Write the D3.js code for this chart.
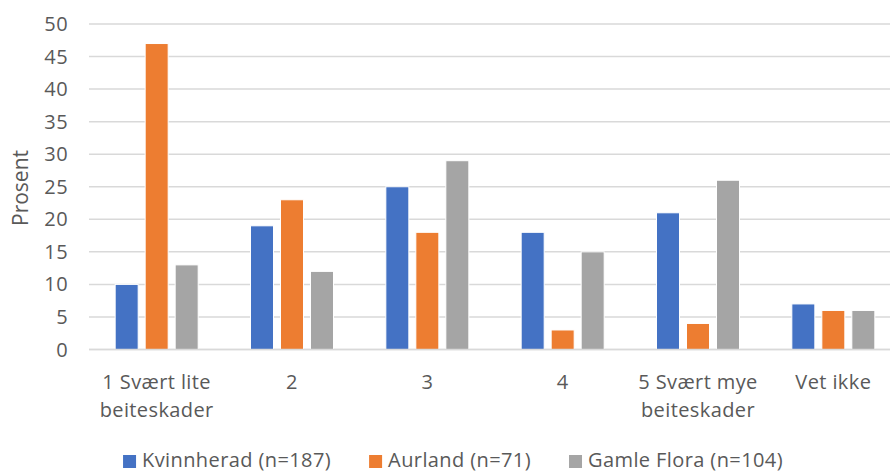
<!DOCTYPE html>
<html><head><meta charset="utf-8">
<script src="https://cdn.jsdelivr.net/npm/d3@7"></script>
<style>html,body{margin:0;padding:0;background:#fff;}svg{display:block;}</style>
</head><body>
<svg id="chart" width="890" height="473"></svg>
<script>
const categories = [["1 Svært lite","beiteskader"],["2"],["3"],["4"],["5 Svært mye","beiteskader"],["Vet ikke"]];
const seriesNames = ["Kvinnherad (n=187)","Aurland (n=71)","Gamle Flora (n=104)"];
const kvinnherad = [10,19,25,18,21,7];
const aurland = [47,23,18,3,4,6];
const gamleFlora = [13,12,29,15,26,6];
const yTicks = [0,5,10,15,20,25,30,35,40,45,50];
const colors = ["#4472C4","#ED7D31","#A5A5A5"];
const seriesValues = [kvinnherad, aurland, gamleFlora];

(function(){
const font = "'Open Sans', sans-serif";
const textColor = "#595959";
const fs = 20;
const ls = "0.4px";
const svg = d3.select("#chart");
const mLeft = 89, mRight = 901, mTop = 24, mBottom = 349.5;

const x0 = d3.scaleBand().domain(d3.range(categories.length)).range([mLeft,mRight]).paddingInner(0.335).paddingOuter(0.1675);
const x1 = d3.scaleBand().domain(d3.range(seriesNames.length)).range([0,x0.bandwidth()]).paddingInner(0.233).paddingOuter(0.1165);
const y = d3.scaleLinear().domain([0,50]).range([mBottom,mTop]);

svg.append("g").selectAll("line").data(yTicks).join("line")
  .attr("x1",mLeft).attr("x2",890).attr("y1",d=>y(d)).attr("y2",d=>y(d))
  .attr("stroke","#d9d9d9").attr("stroke-width",1.5);

svg.append("g").selectAll("text").data(yTicks).join("text")
  .attr("x",68).attr("y",d=>y(d)).attr("dy","0.35em").attr("text-anchor","end")
  .attr("font-family",font).attr("font-size",fs).attr("letter-spacing",ls).attr("fill",textColor).text(d=>d);

svg.append("text").attr("transform","translate(28,188) rotate(-90)")
  .attr("text-anchor","middle").attr("font-family",font).attr("font-size",21).attr("fill",textColor).text("Prosent");

const groups = svg.append("g").selectAll("g").data(categories.map((c,i)=>i)).join("g")
  .attr("transform",i=>`translate(${x0(i)},0)`);
groups.selectAll("rect").data(i=>seriesValues.map((vals,s)=>({s,v:vals[i]}))).join("rect")
  .attr("x",d=>x1(d.s)).attr("width",x1.bandwidth())
  .attr("y",d=>y(d.v)).attr("height",d=>y(0)-y(d.v))
  .attr("fill",d=>colors[d.s]).attr("stroke","#fff").attr("stroke-width",1);

svg.append("line").attr("x1",mLeft).attr("x2",890).attr("y1",y(0)).attr("y2",y(0))
  .attr("stroke","#d9d9d9").attr("stroke-width",1.5);

const xl = svg.append("g").selectAll("text").data(categories.map((c,i)=>({c,i}))).join("text")
  .attr("text-anchor","middle").attr("font-family",font).attr("font-size",fs).attr("letter-spacing",ls).attr("fill",textColor);
xl.each(function(d){
  const t = d3.select(this);
  d.c.forEach((line,k)=>{
    t.append("tspan").attr("x",x0(d.i)+x0.bandwidth()/2).attr("y",389+k*28).text(line);
  });
});

const leg = svg.append("g");
const items = leg.selectAll("g").data(seriesNames.map((n,i)=>({n,i}))).join("g");
items.append("rect").attr("width",13).attr("height",13).attr("y",455).attr("fill",d=>colors[d.i]);
items.append("text").attr("x",19).attr("y",467).attr("font-family",font).attr("font-size",fs).attr("letter-spacing",ls).attr("fill",textColor).text(d=>d.n);
let cx = 0; const gap = 38; const pos=[];
items.each(function(d){ const w = this.querySelector("text").getComputedTextLength()+19; pos.push(cx); cx += w+gap; });
const total = cx-gap; const start = 453 - total/2;
items.attr("transform",(d,i)=>`translate(${start+pos[i]},0)`);
})();
</script>
</body></html>
